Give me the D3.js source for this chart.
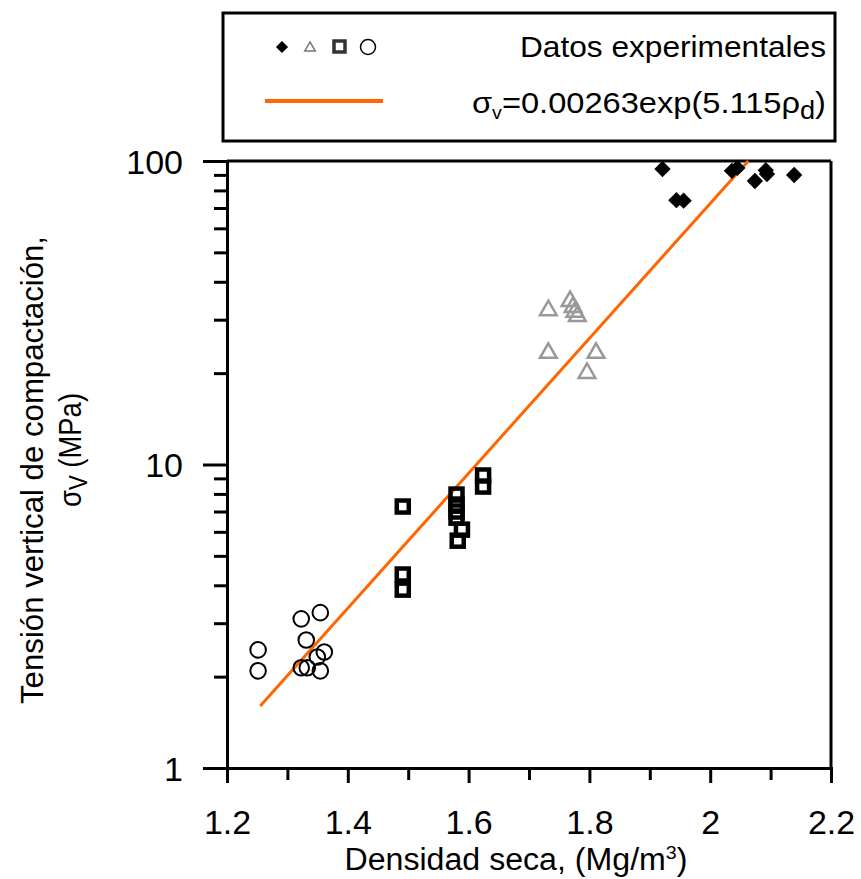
<!DOCTYPE html>
<html>
<head>
<meta charset="utf-8">
<script src="https://cdn.jsdelivr.net/npm/d3@7"></script>
<style>
  body { margin: 0; background: #fff; }
  text { font-family: "Liberation Sans", Arial, sans-serif; fill: #000; }
</style>
</head>
<body>
<div id="chart"></div>
<script>
// data (density Mg/m3, stress MPa)
const diamondX = [1.921, 1.944, 1.956, 2.036, 2.045, 2.074, 2.092, 2.094, 2.139];
const diamondY = [94.1, 74.3, 74.0, 92.8, 94.9, 85.9, 93.2, 90.6, 89.9];

const triangleX = [1.732, 1.768, 1.773, 1.776, 1.780, 1.732, 1.811, 1.796];
const triangleY = [32.2, 34.5, 33.0, 31.8, 30.8, 23.3, 23.3, 20.0];

const squareX = [1.491, 1.624, 1.624, 1.580, 1.580, 1.580, 1.580, 1.589, 1.582, 1.491, 1.491];
const squareY = [7.27, 9.20, 8.46, 7.96, 7.38, 7.00, 6.68, 6.10, 5.61, 4.34, 3.87];

const circleX = [1.2515, 1.2515, 1.3229, 1.3545, 1.3312, 1.3611, 1.3495, 1.3229, 1.3329, 1.3545];
const circleY = [2.45, 2.09, 3.10, 3.25, 2.64, 2.41, 2.32, 2.14, 2.14, 2.09];

// fitted curve endpoints
const fitX = [1.255, 2.063];
const fitY = [1.6, 100];

const xTicks = [1.2, 1.4, 1.6, 1.8, 2.0, 2.2];
const xMinor = [1.3, 1.5, 1.7, 1.9, 2.1];
const yTicks = [1, 10, 100];

const W = 861, H = 879;
const pLeft = 227, pRight = 831, pTop = 161, pBottom = 768;
const orange = "#ff6600";

const svg = d3.select("#chart").append("svg")
    .attr("width", W).attr("height", H);

const x = d3.scaleLinear().domain([1.2, 2.2]).range([pLeft, pRight]);
const y = d3.scaleLog().domain([1, 100]).range([pBottom, pTop]);

// plot frame (top + right)
svg.append("line").attr("x1", pLeft).attr("x2", pRight).attr("y1", pTop).attr("y2", pTop)
    .attr("stroke", "#000").attr("stroke-width", 3);
svg.append("line").attr("x1", pRight).attr("x2", pRight).attr("y1", pTop).attr("y2", pBottom)
    .attr("stroke", "#000").attr("stroke-width", 3);

// x axis
svg.append("g").attr("transform", "translate(0," + pBottom + ")")
    .call(d3.axisBottom(x).tickValues(xTicks).tickSize(15).tickPadding(27)
        .tickFormat(d => d3.format("~g")(d)));
svg.append("g").attr("transform", "translate(0," + pBottom + ")")
    .call(d3.axisBottom(x).tickValues(xMinor).tickSize(12).tickFormat(""));

// y axis, minor ticks 2..9 each decade
const yMinor = [];
[1, 10].forEach(dec => { for (let k = 2; k <= 9; k++) yMinor.push(dec * k); });
const yAxis = svg.append("g").attr("transform", "translate(" + pLeft + ",0)")
    .call(d3.axisLeft(y).tickValues(yTicks).tickSize(24).tickPadding(20)
        .tickFormat(d3.format("d")));
svg.append("g").attr("transform", "translate(" + pLeft + ",0)")
    .call(d3.axisLeft(y).tickValues(yMinor).tickSize(13).tickFormat(""));

svg.selectAll(".domain").attr("stroke", "#000").attr("stroke-width", 3);
svg.selectAll(".tick line").attr("stroke", "#000").attr("stroke-width", 3);
svg.selectAll(".tick text").style("font-size", "34px")
    .style("font-family", "Liberation Sans, Arial, sans-serif").attr("fill", "#000");
yAxis.selectAll(".tick text").attr("dy", "0.36em");

// axis titles
svg.append("text").attr("x", 516).attr("y", 870)
    .attr("text-anchor", "middle").style("font-size", "31px")
    .attr("textLength", 343).attr("lengthAdjust", "spacingAndGlyphs")
    .html('Densidad seca, (Mg/m<tspan dy="-11" style="font-size:19px">3</tspan><tspan dy="11">)</tspan>');

svg.append("text").attr("transform", "translate(43,470) rotate(-90)")
    .attr("text-anchor", "middle").style("font-size", "31px")
    .attr("textLength", 468).attr("lengthAdjust", "spacingAndGlyphs")
    .text("Tensión vertical de compactación,");
svg.append("text").attr("transform", "translate(81,450) rotate(-90)")
    .attr("text-anchor", "middle").style("font-size", "31px")
    .attr("textLength", 114).attr("lengthAdjust", "spacingAndGlyphs")
    .html('σ<tspan dy="6" style="font-size:25px">V</tspan><tspan dy="-6"> (MPa)</tspan>');

// fitted line
const line = d3.line().x(d => x(d[0])).y(d => y(d[1]));
svg.append("path").datum(d3.zip(fitX, fitY))
    .attr("d", line).attr("fill", "none").attr("stroke", orange).attr("stroke-width", 3);

// markers
const diamond = d3.symbol().type(d3.symbolDiamond2).size(170);
svg.append("g").selectAll("path").data(d3.zip(diamondX, diamondY)).join("path")
    .attr("d", diamond)
    .attr("transform", d => "translate(" + x(d[0]) + "," + y(d[1]) + ")")
    .attr("fill", "#000");

const tri = d3.symbol().type(d3.symbolTriangle2).size(200);
svg.append("g").selectAll("path").data(d3.zip(triangleX, triangleY)).join("path")
    .attr("d", tri)
    .attr("transform", d => "translate(" + x(d[0]) + "," + y(d[1]) + ")")
    .attr("fill", "none").attr("stroke", "#999").attr("stroke-width", 2.5);

svg.append("g").selectAll("rect").data(d3.zip(squareX, squareY)).join("rect")
    .attr("x", d => x(d[0]) - 6).attr("y", d => y(d[1]) - 6)
    .attr("width", 12).attr("height", 12)
    .attr("fill", "none").attr("stroke", "#000").attr("stroke-width", 4.5);

svg.append("g").selectAll("circle").data(d3.zip(circleX, circleY)).join("circle")
    .attr("cx", d => x(d[0])).attr("cy", d => y(d[1])).attr("r", 7.8)
    .attr("fill", "none").attr("stroke", "#000").attr("stroke-width", 2);

// legend
const lg = svg.append("g");
lg.append("rect").attr("x", 223).attr("y", 13).attr("width", 612).attr("height", 128)
    .attr("fill", "#fff").attr("stroke", "#000").attr("stroke-width", 3);
lg.append("path").attr("d", d3.symbol().type(d3.symbolDiamond2).size(95))
    .attr("transform", "translate(282,47)").attr("fill", "#000");
lg.append("path").attr("d", d3.symbol().type(d3.symbolTriangle2).size(80))
    .attr("transform", "translate(310,48)").attr("fill", "none")
    .attr("stroke", "#777").attr("stroke-width", 1.5);
lg.append("rect").attr("x", 334).attr("y", 41).attr("width", 11).attr("height", 11)
    .attr("fill", "none").attr("stroke", "#333").attr("stroke-width", 3.5);
lg.append("circle").attr("cx", 368).attr("cy", 47).attr("r", 7.5)
    .attr("fill", "none").attr("stroke", "#000").attr("stroke-width", 1.5);
lg.append("text").attr("x", 826).attr("y", 57).attr("text-anchor", "end")
    .style("font-size", "30px")
    .attr("textLength", 306).attr("lengthAdjust", "spacingAndGlyphs")
    .text("Datos experimentales");
lg.append("line").attr("x1", 265).attr("x2", 383).attr("y1", 101).attr("y2", 101)
    .attr("stroke", orange).attr("stroke-width", 4);
lg.append("text").attr("x", 826).attr("y", 113).attr("text-anchor", "end")
    .style("font-size", "30px")
    .attr("textLength", 354).attr("lengthAdjust", "spacingAndGlyphs")
    .html('σ<tspan dy="6" style="font-size:18px">v</tspan><tspan dy="-6">=0.00263exp(5.115ρ</tspan><tspan dy="6" style="font-size:25px">d</tspan><tspan dy="-6">)</tspan>');
</script>
</body>
</html>
